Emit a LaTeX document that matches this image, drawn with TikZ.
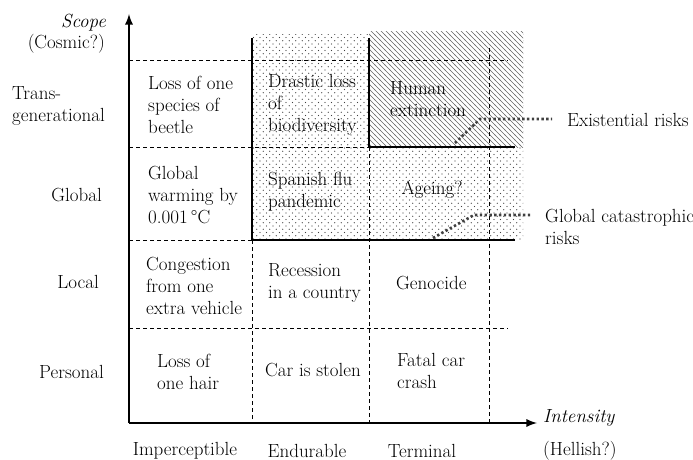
\documentclass[tikz,border=0pt]{standalone}
\usetikzlibrary{patterns}

\pgfdeclarepatternformonly{sparse dots}{\pgfqpoint{-1pt}{-1pt}}{\pgfqpoint{7pt}{7pt}}{\pgfqpoint{6.5pt}{6.5pt}}{
    \pgfpathcircle{\pgfqpoint{0pt}{0pt}}{.6pt}
    \pgfpathcircle{\pgfqpoint{3.25pt}{3.25pt}}{.6pt}
    \pgfusepath{fill}}
\pgfdeclarepatternformonly{sparse hatch}{\pgfqpoint{-1pt}{-1pt}}{\pgfqpoint{6pt}{6pt}}{\pgfqpoint{5pt}{5pt}}{
    \pgfsetlinewidth{0.55pt}
    \pgfpathmoveto{\pgfqpoint{-0.5pt}{5.5pt}}
    \pgfpathlineto{\pgfqpoint{5.5pt}{-0.5pt}}
    \pgfusepath{stroke}}

\begin{document}
\begin{tikzpicture}[x=1pt,y=-1pt,>=latex,font=\fontsize{19}{22}\selectfont,
    every node/.style={text=black,inner sep=0pt},
    cell/.style={anchor=west,align=left},
    rowlab/.style={anchor=east,align=left},
    axis/.style={line width=2.6pt},
    gridline/.style={dash pattern=on 4pt off 3pt,line width=0.9pt},
    border/.style={line width=1.4pt},
    leader/.style={line width=2.6pt,dash pattern=on 2.4pt off 2.4pt,black!75}]
    \useasboundingbox (0,0) rectangle (693,460);

    \fill[pattern=sparse dots,pattern color=black!75] (252,35) rectangle (523,240);
    \fill[white] (369,32) rectangle (523,147);
    \fill[pattern=sparse hatch,pattern color=black!60] (369,32) rectangle (523,147);

    \draw[gridline] (129,60) -- (508,60)  (129,147) -- (369,147)
                    (129,240) -- (252,240)  (129,328) -- (508,328)
                    (252,240) -- (252,423)  (369,147) -- (369,423)
                    (489,48) -- (489,423);
    \draw[border] (252,38) -- (252,240) -- (515,240)
                  (369,38) -- (369,147) -- (515,147);
    \draw[axis,->] (129,423) -- (129,14);
    \draw[axis,->] (129,423) -- (537,423);

    \node[rowlab] (scope)  at (106,23)  {\itshape Scope};
    \node[rowlab] (cosmic) at (105,44)  {(Cosmic?)};
    \node[cell]   (trans)  at (12,106)  {Trans-\\generational};
    \node[rowlab] (global) at (102,195) {Global};
    \node[rowlab] (local)  at (99,282)  {Local};
    \node[rowlab] (person) at (104,372) {Personal};

    \node (imperc) at (185,451) {Imperceptible};
    \node (endur)  at (307,451) {Endurable};
    \node (termin) at (422,451) {Terminal};
    \node[anchor=west] (intens) at (543,418) {\itshape Intensity};
    \node[anchor=west] (hell)   at (543,451) {(Hellish?)};

    \node[cell] (beetle)  at (148,105) {Loss of one\\species of\\beetle};
    \node[cell] (biodiv)  at (268,105) {Drastic loss\\of\\biodiversity};
    \node[cell] (extinct) at (390,99)  {Human\\extinction};
    \node[cell] (warming) at (148,195) {Global\\warming by\\0.001\,\textdegree C};
    \node[cell] (flu)     at (268,192) {Spanish flu\\pandemic};
    \node       (ageing)  at (432,190) {Ageing?};
    \node[cell] (congest) at (146,286) {Congestion\\from one\\extra vehicle};
    \node[cell] (recess)  at (268,283) {Recession\\in a country};
    \node[cell] (genoc)   at (396,283) {Genocide};
    \node[cell] (hair)    at (157,372) {Loss of\\one hair};
    \node       (stolen)  at (313,370) {Car is stolen};
    \node[cell] (crash)   at (397,371) {Fatal car\\crash};

    \node[cell] (exist) at (567,120) {Existential risks};
    \node[cell] (gcr)   at (545,227) {Global catastrophic\\risks};

    \coordinate (ext_s) at (455,143);
    \coordinate (ext_k) at (480,119);
    \coordinate (gcr_s) at (433,238);
    \coordinate (gcr_k) at (474,215);
    \draw[leader] (ext_s) -- (ext_k) -- ([xshift=-15pt]ext_k -| exist.west);
    \draw[leader] (gcr_s) -- (gcr_k) -- ([xshift=-14pt]gcr_k -| gcr.west);
\end{tikzpicture}
\end{document}
